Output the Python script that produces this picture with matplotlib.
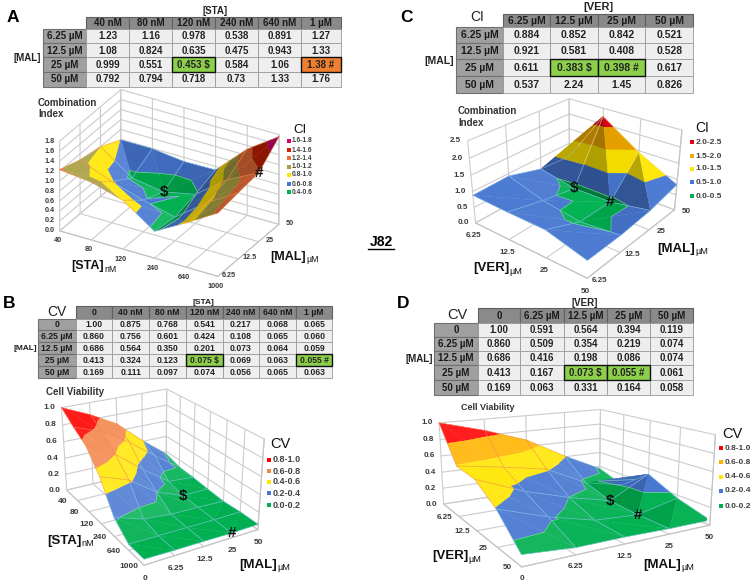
import numpy as np
import matplotlib
matplotlib.use('Agg')
import matplotlib.pyplot as plt
from matplotlib.patches import Rectangle
from matplotlib.colors import to_rgb
from mpl_toolkits.mplot3d import proj3d
from mpl_toolkits.mplot3d.art3d import Poly3DCollection, Line3DCollection

plt.rcParams['font.family'] = ['Liberation Sans', 'DejaVu Sans']

# ---------- data ----------
A_cols = ['40 nM', '80 nM', '120 nM', '240 nM', '640 nM', '1 µM']
A_rows = ['6.25 µM', '12.5 µM', '25 µM', '50 µM']
A_vals = [[1.23, 1.16, 0.978, 0.538, 0.891, 1.27],
          [1.08, 0.824, 0.635, 0.475, 0.943, 1.33],
          [0.999, 0.551, 0.453, 0.584, 1.06, 1.38],
          [0.792, 0.794, 0.718, 0.73, 1.33, 1.76]]
A_xticks = ['40', '80', '120', '240', '640', '1000']
A_yticks = ['6.25', '12.5', '25', '50']
A_zticks = [0.0, 0.2, 0.4, 0.6, 0.8, 1.0, 1.2, 1.4, 1.6, 1.8]
A_bands = [(0.4, 0.6, '#00b050', '0.4-0.6'), (0.6, 0.8, '#4676d0', '0.6-0.8'),
           (0.8, 1.0, '#ffe600', '0.8-1.0'), (1.0, 1.2, '#a8a040', '1.0-1.2'),
           (1.2, 1.4, '#f07038', '1.2-1.4'), (1.4, 1.6, '#d02000', '1.4-1.6'),
           (1.6, 1.8, '#d8006c', '1.6-1.8')]

C_cols = ['6.25 µM', '12.5 µM', '25 µM', '50 µM']
C_rows = ['6.25 µM', '12.5 µM', '25 µM', '50 µM']
C_vals = [[0.884, 0.852, 0.842, 0.521],
          [0.921, 0.581, 0.408, 0.528],
          [0.611, 0.383, 0.398, 0.617],
          [0.537, 2.24, 1.45, 0.826]]
C_xticks = ['6.25', '12.5', '25', '50']
C_yticks = ['6.25', '12.5', '25', '50']
C_zticks = [0.0, 0.5, 1.0, 1.5, 2.0, 2.5]
C_bands = [(0.0, 0.5, '#00b050', '0.0-0.5'), (0.5, 1.0, '#4676d0', '0.5-1.0'),
           (1.0, 1.5, '#ffe600', '1.0-1.5'), (1.5, 2.0, '#f0a800', '1.5-2.0'),
           (2.0, 2.5, '#e60012', '2.0-2.5')]

B_cols = ['0', '40 nM', '80 nM', '120 nM', '240 nM', '640 nM', '1 µM']
B_rows = ['0', '6.25 µM', '12.5 µM', '25 µM', '50 µM']
B_vals = [[1.00, 0.875, 0.768, 0.541, 0.217, 0.068, 0.065],
          [0.860, 0.756, 0.601, 0.424, 0.108, 0.065, 0.060],
          [0.686, 0.564, 0.350, 0.201, 0.073, 0.064, 0.059],
          [0.413, 0.324, 0.123, 0.075, 0.069, 0.063, 0.055],
          [0.169, 0.111, 0.097, 0.074, 0.056, 0.065, 0.063]]
B_xticks = ['', '40', '80', '120', '240', '640', '1000']
B_yticks = ['0', '6.25', '12.5', '25', '50']
B_zticks = [0.0, 0.2, 0.4, 0.6, 0.8, 1.0]
CV_bands = [(0.0, 0.2, '#00b050', '0.0-0.2'), (0.2, 0.4, '#4676d0', '0.2-0.4'),
            (0.4, 0.6, '#ffe600', '0.4-0.6'), (0.6, 0.8, '#f4854a', '0.6-0.8'),
            (0.8, 1.0, '#ff0000', '0.8-1.0')]

D_cols = ['0', '6.25 µM', '12.5 µM', '25 µM', '50 µM']
D_rows = ['0', '6.25 µM', '12.5 µM', '25 µM', '50 µM']
D_vals = [[1.00, 0.591, 0.564, 0.394, 0.119],
          [0.860, 0.509, 0.354, 0.219, 0.074],
          [0.686, 0.416, 0.198, 0.086, 0.074],
          [0.413, 0.167, 0.073, 0.055, 0.061],
          [0.169, 0.063, 0.331, 0.164, 0.058]]
D_xticks = ['', '6.25', '12.5', '25', '50']
D_yticks = ['0', '6.25', '12.5', '25', '50']
D_zticks = [0.0, 0.2, 0.4, 0.6, 0.8, 1.0]
D_bands = [(0.0, 0.2, '#00b050', '0.0-0.2'), (0.2, 0.4, '#4676d0', '0.2-0.4'),
           (0.4, 0.6, '#ffe600', '0.4-0.6'), (0.6, 0.8, '#ffb400', '0.6-0.8'),
           (0.8, 1.0, '#ff0000', '0.8-1.0')]

W, H = 753, 581
fig = plt.figure(figsize=(W / 100, H / 100), dpi=100, facecolor='white')
tab = fig.add_axes([0, 0, 1, 1])
tab.set_xlim(0, W)
tab.set_ylim(H, 0)
tab.axis('off')


def draw_table(cols, rows, vals, xs, ys, fmt, marks, fs):
    for c, lab in enumerate(cols):
        tab.add_patch(Rectangle((xs[c + 1], ys[0]), xs[c + 2] - xs[c + 1], ys[1] - ys[0],
                                fc='#8a8a8a', ec='#606060', lw=0.8))
        tab.text((xs[c + 1] + xs[c + 2]) / 2, (ys[0] + ys[1]) / 2 + .3, lab, ha='center', va='center',
                 fontsize=fs, fontweight='bold', color='#1a1a1a')
    for r, lab in enumerate(rows):
        tab.add_patch(Rectangle((xs[0], ys[r + 1]), xs[1] - xs[0], ys[r + 2] - ys[r + 1],
                                fc='#a0a0a0', ec='#707070', lw=0.8))
        tab.text((xs[0] + xs[1]) / 2, (ys[r + 1] + ys[r + 2]) / 2 + .3, lab, ha='center', va='center',
                 fontsize=fs, fontweight='bold', color='#1a1a1a')
        for c, v in enumerate(vals[r]):
            m = marks.get((r, c))
            tab.add_patch(Rectangle((xs[c + 1], ys[r + 1]), xs[c + 2] - xs[c + 1], ys[r + 2] - ys[r + 1],
                                    fc='#eeeeee', ec='#9a9a9a', lw=0.6))
            txt = fmt(v) + (' ' + m[0] if m else '')
            if m:
                tab.add_patch(Rectangle((xs[c + 1], ys[r + 1]), xs[c + 2] - xs[c + 1], ys[r + 2] - ys[r + 1],
                                        fc=m[1], ec='#101010', lw=1.0, zorder=3))
            tab.text((xs[c + 1] + xs[c + 2]) / 2, (ys[r + 1] + ys[r + 2]) / 2 + .3, txt, ha='center',
                     va='center', fontsize=fs, fontweight='bold', color='#222222', zorder=4)


def clip(poly, lo, hi):
    for level, sign in ((lo, 1), (hi, -1)):
        out = []
        for k in range(len(poly)):
            a, b = poly[k], poly[(k + 1) % len(poly)]
            da, db = sign * (a[2] - level), sign * (b[2] - level)
            if da >= 0:
                out.append(a)
            if da * db < 0:
                out.append(a + (b - a) * da / (da - db))
        poly = out
        if len(poly) < 3:
            return []
    return poly


def clip_seg(a, b, lo, hi):
    za, zb = a[2], b[2]
    if za == zb:
        return (a, b) if lo <= za < hi else None
    t0 = (lo - za) / (zb - za)
    t1 = (hi - za) / (zb - za)
    t0, t1 = min(t0, t1), max(t0, t1)
    t0, t1 = max(t0, 0), min(t1, 1)
    if t1 <= t0:
        return None
    return a + (b - a) * t0, a + (b - a) * t1


def level_seg(t, level):
    found = []
    for k in range(3):
        a, b = t[k], t[(k + 1) % 3]
        if (a[2] - level) * (b[2] - level) < 0:
            found.append(a + (b - a) * (level - a[2]) / (b[2] - a[2]))
    return found if len(found) == 2 else None


def panel(Z, zmax, xticks, yticks, zticks, bands, view, place_px, marks3d,
          xoff, yoff, zoff, tfs, upper_line='#f2894e'):
    Z = np.array(Z, float)
    ny, nx = Z.shape
    ax = fig.add_axes([0, 0, .5, .5], projection='3d', computed_zorder=False)
    ax.patch.set_visible(False)
    ax.set_xlim(0, nx - 1, view_margin=0)
    ax.set_ylim(0, ny - 1, view_margin=0)
    ax.set_zlim(0, zmax, view_margin=0)
    ax.view_init(elev=view[0], azim=view[1])
    ax.set_proj_type('persp', focal_length=view[2])
    ax.set_box_aspect((view[3], view[4], 1.0))
    s, tx, ty = place_px
    x0, x1 = ax.viewLim.intervalx
    y0, y1 = ax.viewLim.intervaly
    size = s * (x1 - x0)
    left = tx + s * x0
    top = ty - s * y1
    ax.set_position([left / W, 1 - (top + size) / H, size / W, size / H])

    asp = np.array([view[3] / (nx - 1), view[4] / (ny - 1), 1.0 / zmax])
    light = np.array([.7, .7, 0.0])
    z_o = 10
    for i in range(nx - 1):
        for j in range(ny - 2, -1, -1):
            c = [np.array([i, j, Z[j, i]], float), np.array([i + 1, j, Z[j, i + 1]], float),
                 np.array([i + 1, j + 1, Z[j + 1, i + 1]], float), np.array([i, j + 1, Z[j + 1, i]], float)]
            if abs(c[0][2] - c[2][2]) >= abs(c[1][2] - c[3][2]):
                tris = [[c[0], c[1], c[2]], [c[0], c[2], c[3]]]
            else:
                tris = [[c[0], c[1], c[3]], [c[1], c[2], c[3]]]
            polys, cols, lines, lcols = [], [], [], []
            for t in tris:
                n = np.cross((t[1] - t[0]) * asp, (t[2] - t[0]) * asp)
                n = n / np.linalg.norm(n)
                f = float(n @ light)
                for lo, hi, col, _ in bands:
                    poly = clip(list(t), lo, hi)
                    if len(poly) < 3:
                        continue
                    rgb = np.array(to_rgb(col))
                    rgb = rgb * (1 + .55 * f) if f < 0 else rgb + (1 - rgb) * .22 * f
                    polys.append([tuple(v) for v in poly])
                    cols.append(tuple(np.clip(rgb, 0, 1)))
                seg = level_seg(t, bands[0][1])
                if seg:
                    lines.append([tuple(seg[0]), tuple(seg[1])])
                    lcols.append('#9ff0b0')
            pc = Poly3DCollection(polys, facecolors=cols, edgecolors=cols, linewidths=.25)
            pc.set_zorder(z_o)
            ax.add_collection3d(pc, autolim=False)
            for e in range(4):
                a, b = c[e], c[(e + 1) % 4]
                for lo, hi, col, _ in bands:
                    sg = clip_seg(a, b, lo, hi)
                    if sg:
                        lines.append([tuple(sg[0]), tuple(sg[1])])
                        lcols.append(upper_line if lo >= bands[2][0] else '#8fc8f0')
            lc = Line3DCollection(lines, colors=lcols, linewidths=.5, alpha=.6)
            lc.set_zorder(z_o + 1)
            ax.add_collection3d(lc, autolim=False)
            z_o += 2

    for axis in (ax.xaxis, ax.yaxis, ax.zaxis):
        axis.set_pane_color((1, 1, 1, 0))
        axis.pane.set_edgecolor('#c4c4c4')
        axis.pane.set_linewidth(.8)
        axis.line.set_color('#c4c4c4')
        axis._axinfo['grid'].update(color='#cccccc', linewidth=.8)
        axis._axinfo['tick'].update(inward_factor=0, outward_factor=0)
    ax.set_xticks(range(nx))
    ax.set_yticks(range(ny))
    ax.set_zticks(zticks)
    ax.set_xticklabels([])
    ax.set_yticklabels([])
    ax.set_zticklabels([])

    M = ax.get_proj()

    def place(xp, yp, zp, label, off, **kw):
        x2, y2, _ = proj3d.proj_transform(xp, yp, zp, M)
        ax.annotate(label, xy=(x2, y2), xycoords='data', xytext=off, textcoords='offset pixels',
                    ha='center', va='center', annotation_clip=False, zorder=1000, **kw)

    style = dict(fontsize=tfs, fontweight='bold', color='#3a3a3a')
    for i, lab in enumerate(xticks):
        place(i, 0, 0, lab, xoff, **style)
    for j, lab in enumerate(yticks):
        place(nx - 1, j, 0, lab, yoff, **style)
    for v in zticks:
        place(0, 0, v, '%.1f' % v, zoff, **style)
    for (i, j, sym) in marks3d:
        place(i, j, Z[j, i], sym, (0, 0), fontsize=11, fontweight='bold', color='#101010')
    return ax


def legend(x, ys, bands, title, tx, ty, tfs, fs, ms):
    tab.text(tx, ty, title, ha='center', va='center', fontsize=tfs, color='#111111')
    for y, band in zip(ys, reversed(bands)):
        tab.add_patch(Rectangle((x - ms / 2, y - ms / 2), ms, ms, fc=band[2], ec='none'))
        tab.text(x + ms / 2 + 1, y, band[3], ha='left', va='center', fontsize=fs, fontweight='bold',
                 color='#404040')


def label(x, y, main, sub, fs=9.5):
    t = tab.text(x, y, main, ha='left', va='center', fontsize=fs, color='#111111', fontweight='bold')
    bb = t.get_window_extent(fig.canvas.get_renderer())
    tab.text(x + bb.width + .5, y + 3, sub, ha='left', va='center', fontsize=fs * .7, color='#111111')


fmt3g = lambda v: '%.3g' % v
fmtcv = lambda v: '1.00' if v == 1 else '%.3f' % v
GREEN, ORANGE = '#8ccf4a', '#f08030'
LETTER = 12.5

# ---------- panel A ----------
draw_table(A_cols, A_rows, A_vals, [43, 86, 129, 172, 215, 258, 301, 341],
           [16.7, 29, 43.3, 57.3, 71.7, 86.7], fmt3g,
           {(2, 2): ('$', GREEN), (2, 5): ('#', ORANGE)}, 7)
tab.text(215, 11.5, '[STA]', ha='center', va='center', fontsize=7, fontweight='bold', color='#222222')
tab.text(27, 58, '[MAL]', ha='center', va='center', fontsize=7, fontweight='bold', color='#222222')
tab.text(13, 17, 'A', ha='center', va='center', fontsize=LETTER, fontweight='bold')
panel(A_vals, 1.8, A_xticks, A_yticks, A_zticks, A_bands,
      (29.48, -59.856, 29.999, 1.775, 1.18), (1273.3, 169.3, 182.8),
      [(2, 2, '$'), (5, 2, '#')], (-2, -10), (11, 1), (-10, 0), 5.2)
tab.text(38, 102.5, 'Combination', fontsize=7, va='center', color='#333333', fontweight='bold')
tab.text(38, 114, 'Index', fontsize=7, va='center', color='#333333', fontweight='bold')
label(71, 266, '[STA]', 'nM', 9)
label(270, 257, '[MAL]', 'µM', 9)
legend(289, [141, 150, 158, 167, 175, 184, 192], A_bands, 'CI', 300, 130, 9.5, 4.8, 3.5)

# ---------- panel C ----------
draw_table(C_cols, C_rows, C_vals, [456, 503.3, 550.3, 598, 645.3, 693.3],
           [13.5, 27, 43, 59, 76, 93], fmt3g,
           {(2, 1): ('$', GREEN), (2, 2): ('#', GREEN)}, 7.5)
tab.text(598, 7, '[VER]', ha='center', va='center', fontsize=8, fontweight='bold', color='#222222')
tab.text(439, 61, '[MAL]', ha='center', va='center', fontsize=7.5, fontweight='bold', color='#222222')
tab.text(477, 17, 'CI', ha='center', va='center', fontsize=10, color='#222222')
tab.text(407, 17, 'C', ha='center', va='center', fontsize=LETTER, fontweight='bold')
tab.text(381, 242, 'J82', ha='center', va='center', fontsize=10, fontweight='bold')
tab.plot([368, 394], [248.5, 248.5], color='black', lw=1)
panel(C_vals, 2.5, C_xticks, C_yticks, C_zticks, C_bands,
      (27.597, -51.056, 0.476, 1.581, 1.644), (1191.2, 577.0, 177.3),
      [(1, 2, '$'), (2, 2, '#')], (-2, -13), (12, -2), (-12, 0), 5.8, upper_line='#f5e9a0')
tab.text(458, 111, 'Combination', fontsize=7, va='center', color='#333333', fontweight='bold')
tab.text(458, 123, 'Index', fontsize=7, va='center', color='#333333', fontweight='bold')
label(473, 268, '[VER]', 'µM')
label(657, 249, '[MAL]', 'µM')
legend(692, [142, 156, 169, 182, 196], C_bands, 'CI', 702, 128, 10, 6, 4.5)

# ---------- panel B ----------
draw_table(B_cols, B_rows, B_vals, [38.3, 75.7, 112.3, 149, 185.7, 222.7, 259.3, 296, 332.3],
           [305.7, 319, 330, 342, 354, 366, 378.3], fmtcv,
           {(3, 3): ('$', GREEN), (3, 6): ('#', GREEN)}, 6.2)
tab.text(203, 302, '[STA]', ha='center', va='center', fontsize=6, fontweight='bold', color='#222222')
tab.text(25, 349, '[MAL]', ha='center', va='center', fontsize=6, fontweight='bold', color='#222222')
tab.text(57, 312, 'CV', ha='center', va='center', fontsize=10, color='#222222')
tab.text(9, 303, 'B', ha='center', va='center', fontsize=LETTER, fontweight='bold')
panel(B_vals, 1.0, B_xticks, B_yticks, B_zticks, CV_bands,
      (24.217, -30.073, 0.542, 1.832, 1.333), (1229.6, 156.7, 466.8),
      [(3, 3, '$'), (6, 3, '#')], (-15, -1), (1, -13), (-12, 0), 6)
tab.text(46, 392, 'Cell Viability', fontsize=7, va='center', color='#333333', fontweight='bold')
label(47, 541, '[STA]', 'nM')
label(239, 565, '[MAL]', 'µM')
legend(269, [460, 471, 482, 493, 505], CV_bands, 'CV', 280, 444, 10.5, 6.5, 4.5)

# ---------- panel D ----------
draw_table(D_cols, D_rows, D_vals, [434.3, 477.7, 520.3, 564, 607, 650.3, 693.3],
           [308, 323, 336.7, 350.7, 365.3, 380, 395.3], fmtcv,
           {(3, 2): ('$', GREEN), (3, 3): ('#', GREEN)}, 7)
tab.text(585, 303, '[VER]', ha='center', va='center', fontsize=7, fontweight='bold', color='#222222')
tab.text(419, 359, '[MAL]', ha='center', va='center', fontsize=7, fontweight='bold', color='#222222')
tab.text(457, 315, 'CV', ha='center', va='center', fontsize=10.5, color='#222222')
tab.text(403, 304, 'D', ha='center', va='center', fontsize=LETTER, fontweight='bold')
panel(D_vals, 1.0, D_xticks, D_yticks, D_zticks, D_bands,
      (14.065, -30.04, 0.378, 2.207, 2.265), (1534.3, 569.2, 472.0),
      [(2, 3, '$'), (3, 3, '#')], (-14, -1), (0, -12), (-12, 0), 5.8)
tab.text(461, 408, 'Cell Viability', fontsize=6.5, va='center', color='#333333', fontweight='bold')
label(432, 556, '[VER]', 'µM')
label(643, 565, '[MAL]', 'µM')
legend(721, [448, 462, 477, 491, 506], D_bands, 'CV', 732, 434, 10.5, 6, 4.5)

fig.savefig('out.png', dpi=100)
